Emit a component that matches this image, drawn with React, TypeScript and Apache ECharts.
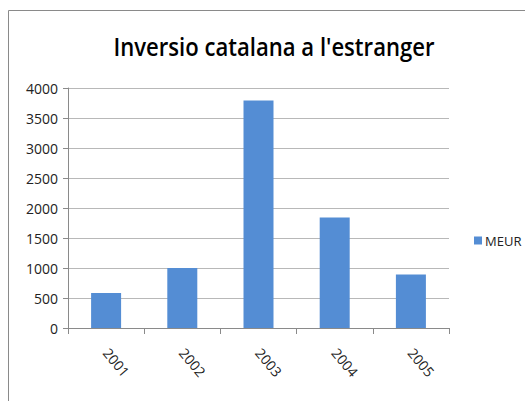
import React, { useEffect, useRef } from "react";
import * as echarts from "echarts";

const TITLE = "Inversio catalana a l'estranger";
const categories = ["2001", "2002", "2003", "2004", "2005"];
const seriesName = "MEUR";
const values = [585, 1000, 3790, 1840, 890];
const yMin = 0;
const yMax = 4000;
const yInterval = 500;

const FONT = "'Open Sans', 'Noto Sans', sans-serif";

export default function App() {
  const ref = useRef<HTMLDivElement>(null);
  useEffect(() => {
    if (!ref.current) return;
    const chart = echarts.init(ref.current, null, { renderer: "svg" });
    chart.setOption({
      animation: false,
      backgroundColor: "#ffffff",
      graphic: [
        {
          type: "rect",
          shape: { x: 8.5, y: 10.5, width: 700, height: 500 },
          style: { fill: "none", stroke: "#8a8a8a", lineWidth: 1 },
          silent: true,
        },
        {
          type: "text",
          x: 274,
          y: 46,
          scaleX: 0.85,
          style: {
            text: TITLE,
            fontFamily: FONT,
            fontSize: 26,
            fontWeight: 600,
            fill: "#000000",
            textAlign: "center",
            textVerticalAlign: "middle",
          },
        },
      ],
      legend: {
        data: [seriesName],
        left: 469,
        top: 229,
        orient: "vertical",
        icon: "rect",
        itemWidth: 8,
        itemHeight: 8,
        itemGap: 4,
        textStyle: { fontFamily: FONT, fontSize: 13, color: "#222", padding: [0, 0, 0, -2] },
      },
      grid: { left: 68, right: 76, top: 88, bottom: 73 },
      xAxis: {
        type: "category",
        data: categories,
        axisLine: { lineStyle: { color: "#8a8a8a", width: 1 } },
        axisTick: { show: true, length: 6, lineStyle: { color: "#8a8a8a" } },
        axisLabel: {
          rotate: -50,
          margin: 22,
          fontFamily: FONT,
          fontSize: 14,
          color: "#222",
        },
      },
      yAxis: {
        type: "value",
        min: yMin,
        max: yMax,
        interval: yInterval,
        axisLine: { show: true, lineStyle: { color: "#8a8a8a", width: 1 } },
        axisTick: { show: true, length: 5, lineStyle: { color: "#8a8a8a" } },
        splitLine: { lineStyle: { color: "#b8b8b8", width: 1 } },
        axisLabel: {
          margin: 10,
          fontFamily: FONT,
          fontSize: 14,
          color: "#222",
          formatter: (v: number) => String(v),
        },
      },
      series: [
        {
          name: seriesName,
          type: "bar",
          data: values,
          barWidth: 30,
          itemStyle: { color: "#548DD4" },
        },
      ],
    });
    return () => chart.dispose();
  }, []);
  return (
    <div
      ref={ref}
      style={{ position: "fixed", left: 0, top: 0, width: 525, height: 401 }}
    />
  );
}
